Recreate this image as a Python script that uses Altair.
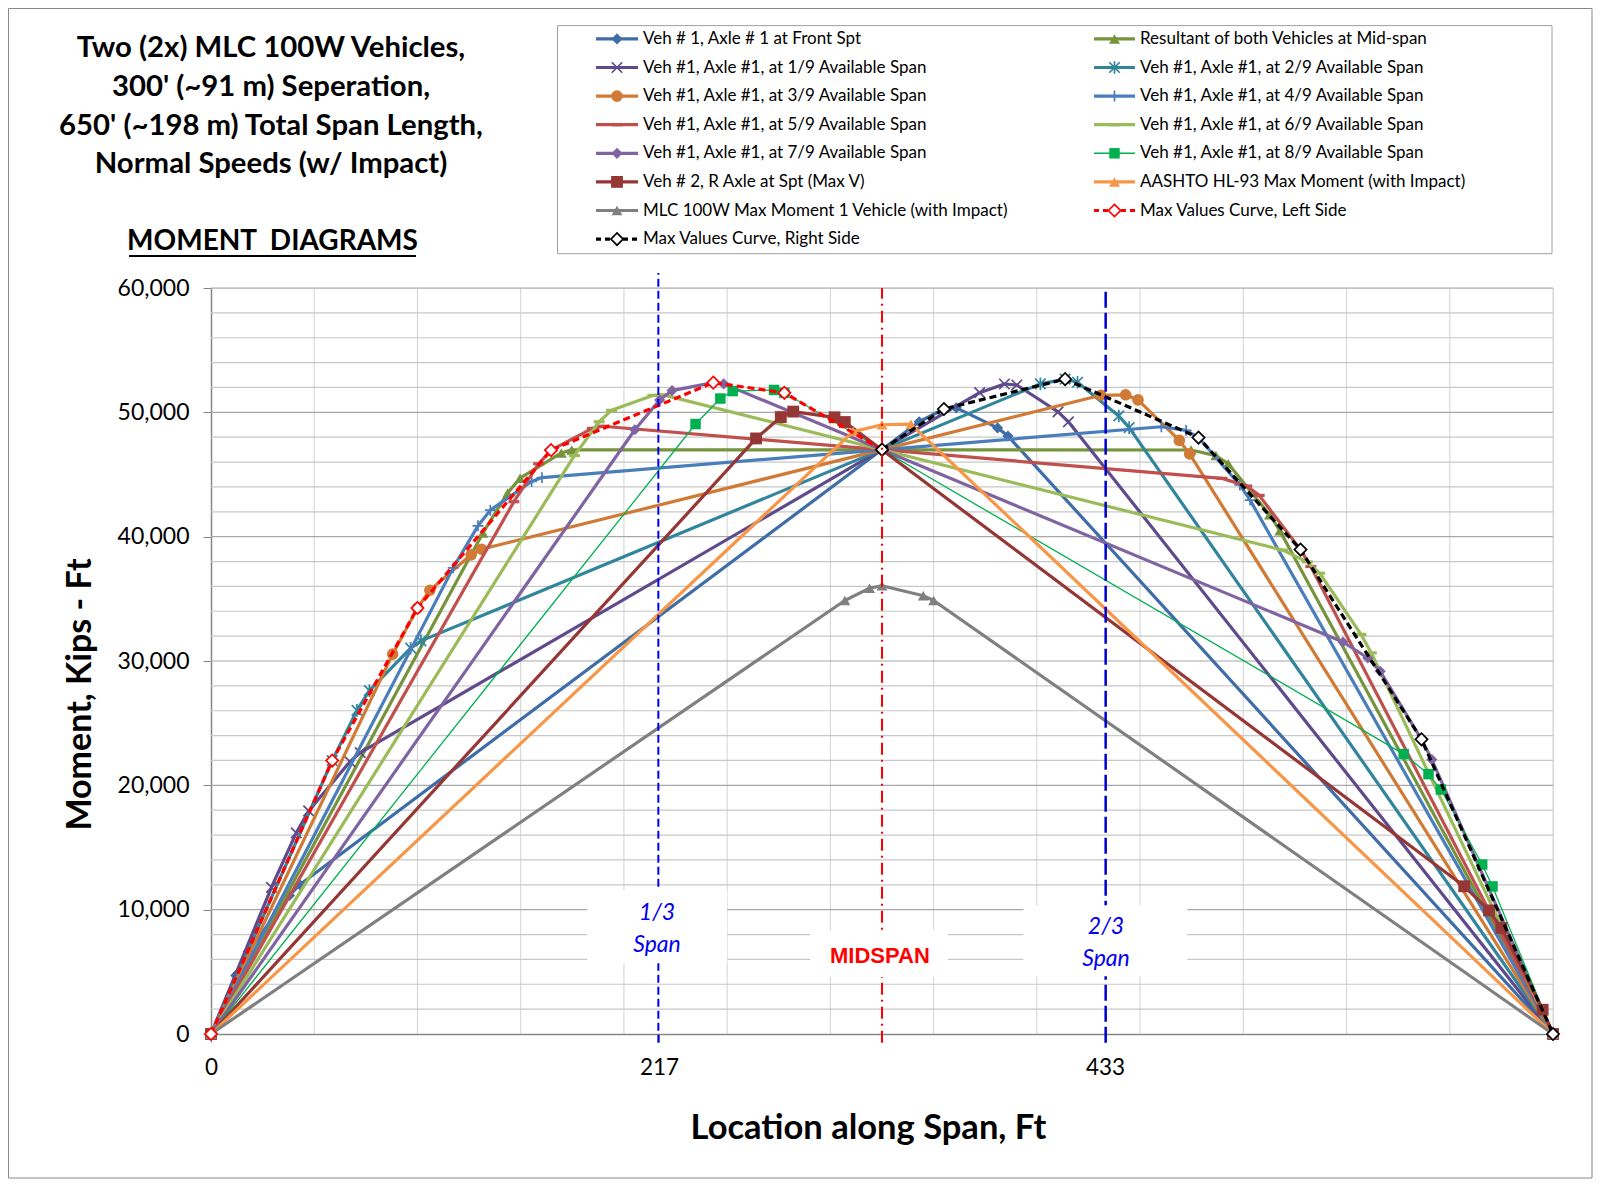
import altair as alt
import pandas as pd

# ------------------------------------------------------------------
# Chart content
# ------------------------------------------------------------------
TITLE_LINES = [
    "Two (2x) MLC 100W Vehicles,",
    "300' (~91 m) Seperation,",
    "650' (~198 m) Total Span Length,",
    "Normal Speeds (w/ Impact)",
]
SUBTITLE = "MOMENT\u00a0\u00a0DIAGRAMS"
X_TITLE = "Location along Span, Ft"
Y_TITLE = "Moment, Kips - Ft"

X_TICKS = [0, 217, 433]
Y_TICKS = [0, 10000, 20000, 30000, 40000, 50000, 60000]
X_GRID = [50, 100, 150, 200, 250, 300, 350, 400, 450, 500, 550, 600, 650]
Y_GRID_MAJOR = [10000, 20000, 30000, 40000, 50000, 60000]
Y_GRID_MINOR = [2000, 4000, 6000, 8000, 12000, 14000, 16000, 18000,
                22000, 24000, 26000, 28000, 32000, 34000, 36000, 38000,
                42000, 44000, 46000, 48000, 52000, 54000, 56000, 58000]

NAMES = [
    "Veh # 1, Axle # 1 at Front Spt",
    "Resultant of both Vehicles at Mid-span",
    "Veh #1, Axle #1, at 1/9 Available Span",
    "Veh #1, Axle #1, at 2/9 Available Span",
    "Veh #1, Axle #1, at 3/9 Available Span",
    "Veh #1, Axle #1, at 4/9 Available Span",
    "Veh #1, Axle #1, at 5/9 Available Span",
    "Veh #1, Axle #1, at 6/9 Available Span",
    "Veh #1, Axle #1, at 7/9 Available Span",
    "Veh #1, Axle #1, at 8/9 Available Span",
    "Veh # 2, R Axle at Spt (Max V)",
    "AASHTO HL-93 Max Moment (with Impact)",
    "MLC 100W Max Moment 1 Vehicle (with Impact)",
    "Max Values Curve, Left Side",
    "Max Values Curve, Right Side",
]

x_front = [0, 12, 18, 38, 43, 343, 355, 361, 381, 386, 650]
y_front = [0, 4710, 6630, 11140, 12010, 49240, 50270, 50360, 48750, 48090, 0]

x_result = [0, 131.7, 143.7, 149.7, 169.7, 174.7, 474.7, 486.7, 492.7, 512.7, 517.7, 650]
y_result = [0, 40300, 43520, 44700, 46730, 46980, 46970, 46520, 45860, 41770, 40480, 0]

x_1of9 = [0, 29.3, 41.3, 47.3, 67.3, 72.3, 372.3, 384.3, 390.3, 410.3, 415.3, 650]
y_1of9 = [0, 11800, 16180, 17940, 21900, 22630, 51580, 52280, 52200, 50040, 49240, 0]

x_2of9 = [0, 58.7, 70.7, 76.7, 96.7, 101.7, 401.7, 413.7, 419.7, 439.7, 444.7, 650]
y_2of9 = [0, 21990, 26030, 27620, 31030, 31620, 52290, 52670, 52420, 49710, 48770, 0]

x_3of9 = [0, 88, 100, 106, 126, 131, 431, 443, 449, 469, 474, 650]
y_3of9 = [0, 30550, 34260, 35690, 38540, 38990, 51370, 51410, 51000, 47740, 46660, 0]

x_4of9 = [0, 117.3, 129.3, 135.3, 155.3, 160.3, 460.3, 472.3, 478.3, 498.3, 503.3, 650]
y_4of9 = [0, 37490, 40870, 42130, 44440, 44750, 48840, 48550, 47970, 44160, 42940, 0]

x_5of9 = [0, 146.7, 158.7, 164.7, 184.7, 189.7, 489.7, 501.7, 507.7, 527.7, 532.7, 650]
y_5of9 = [0, 42810, 45860, 46960, 48710, 48880, 44690, 44070, 43320, 38960, 37600, 0]

x_6of9 = [0, 176, 188, 194, 214, 219, 519, 531, 537, 557, 562, 650]
y_6of9 = [0, 46520, 49240, 50160, 51360, 51400, 38920, 37970, 37060, 32140, 30650, 0]

x_7of9 = [0, 205.3, 217.3, 223.3, 243.3, 248.3, 548.3, 560.3, 566.3, 586.3, 591.3, 650]
y_7of9 = [0, 48600, 50990, 51750, 52390, 52290, 31530, 30240, 29170, 23700, 22070, 0]

x_8of9 = [0, 234.7, 246.7, 252.7, 272.7, 277.7, 577.7, 589.7, 595.7, 615.7, 620.7, 650]
y_8of9 = [0, 49060, 51110, 51710, 51800, 51570, 22510, 20900, 19660, 13630, 11870, 0]

x_veh2 = [0, 264, 276, 282, 302, 307, 607, 619, 625, 645, 650]
y_veh2 = [0, 47900, 49620, 50060, 49600, 49220, 11880, 9940, 8530, 1950, 0]

x_hl93 = [0, 311, 325, 339, 650]
y_hl93 = [0, 48450, 49000, 49050, 0]

x_mlc1 = [0, 307, 319, 325, 345, 350, 650]
y_mlc1 = [0, 34870, 35860, 36050, 35250, 34870, 0]

x_maxL = [0, 58.7, 100, 164.7, 243.3, 277.7, 325]
y_maxL = [0, 21990, 34260, 46960, 52390, 51570, 47000]

x_maxR = [325, 355, 413.7, 478.3, 527.7, 586.3, 650]
y_maxR = [47000, 50270, 52670, 47970, 38960, 23700, 0]

SERIES_X = [x_front, x_result, x_1of9, x_2of9, x_3of9, x_4of9, x_5of9, x_6of9,
            x_7of9, x_8of9, x_veh2, x_hl93, x_mlc1, x_maxL, x_maxR]
SERIES_Y = [y_front, y_result, y_1of9, y_2of9, y_3of9, y_4of9, y_5of9, y_6of9,
            y_7of9, y_8of9, y_veh2, y_hl93, y_mlc1, y_maxL, y_maxR]

# reference lines / annotation boxes (data units)
REF_X = [216.67, 325, 433.33]
REF_TOP = [61200, 60000, 60000]
BOX_X1 = [182.3, 290.2, 393.5]
BOX_X2 = [250.0, 356.9, 472.9]
BOX_Y1 = [5690, 4590, 4650]
BOX_Y2 = [11580, 8350, 10360]
ANN_TEXT = ["1/3", "Span", "MIDSPAN", "2/3", "Span"]
ANN_X = [216.0, 216.0, 324.0, 433.5, 433.5]
ANN_Y = [9700, 7150, 6260, 8570, 6070]

# ------------------------------------------------------------------
# Styles
# ------------------------------------------------------------------
X_MARK = "M-1,-1L1,1M-1,1L1,-1"
STAR_MARK = "M-1,-1L1,1M-1,1L1,-1M0,-1.2L0,1.2"
PLUS_MARK = "M-1,0L1,0M0,-1L0,1"
DASH_MARK = "M-1,0L1,0"

STYLES = [
    dict(color="#3F6DA8", w=3.2, dash=None, shape="diamond", size=125, kind="fill"),
    dict(color="#77933C", w=3.2, dash=None, shape="triangle-up", size=120, kind="fill"),
    dict(color="#5F4A8B", w=3.2, dash=None, shape=X_MARK, size=110, kind="stroke"),
    dict(color="#31859C", w=3.2, dash=None, shape=STAR_MARK, size=110, kind="stroke"),
    dict(color="#D07A35", w=3.2, dash=None, shape="circle", size=135, kind="fill"),
    dict(color="#4A7EBB", w=3.2, dash=None, shape=PLUS_MARK, size=120, kind="stroke"),
    dict(color="#C0504D", w=3.2, dash=None, shape=DASH_MARK, size=120, kind="stroke"),
    dict(color="#9BBB59", w=3.2, dash=None, shape=DASH_MARK, size=120, kind="stroke"),
    dict(color="#8064A2", w=3.2, dash=None, shape="diamond", size=125, kind="fill"),
    dict(color="#00B050", w=1.3, dash=None, shape="square", size=110, kind="fill"),
    dict(color="#953735", w=3.2, dash=None, shape="square", size=140, kind="fill"),
    dict(color="#F79646", w=3.2, dash=None, shape="triangle-up", size=120, kind="fill"),
    dict(color="#808080", w=3.2, dash=None, shape="triangle-up", size=120, kind="fill"),
    dict(color="#FF0000", w=3.2, dash=[7, 4], shape="diamond", size=150, kind="open"),
    dict(color="#000000", w=3.2, dash=[7, 4], shape="diamond", size=150, kind="open"),
]

W, H = 1342, 746
FONT = "Lato"

X_ENC = alt.X(
    "x:Q",
    scale=alt.Scale(domain=[0, 650], nice=False, zero=False),
    axis=alt.Axis(
        values=X_TICKS, labelExpr="format(datum.value, 'd')", grid=False, title=X_TITLE,
        labelFlush=False, labelOverlap=False,
        domainColor="#868686", domainWidth=1.5, tickColor="#868686", tickSize=8,
        labelFont=FONT, labelFontSize=22.5, labelColor="#000000", labelPadding=14,
        titleFont=FONT, titleFontSize=34.5, titleFontWeight="bold", titleColor="#000000",
        titleX=657, titleY=94, titleBaseline="middle", titleAlign="center",
    ),
)
Y_ENC = alt.Y(
    "y:Q",
    scale=alt.Scale(domain=[0, 60000], nice=False),
    axis=alt.Axis(
        values=Y_TICKS, labelExpr="format(datum.value, ',')", grid=False, title=Y_TITLE,
        labelFlush=False, labelOverlap=False,
        domainColor="#868686", domainWidth=1.5, tickColor="#868686", tickSize=8,
        labelFont=FONT, labelFontSize=23, labelColor="#000000", labelPadding=14,
        titleFont=FONT, titleFontSize=34, titleFontWeight="bold", titleColor="#000000",
        titleAngle=270, titleX=-131, titleY=406, titleBaseline="middle", titleAlign="center",
    ),
)


def point_mark(st):
    if st["kind"] == "fill":
        return alt.MarkDef(type="point", shape=st["shape"], size=st["size"], filled=True,
                           color=st["color"], opacity=1)
    if st["kind"] == "open":
        return alt.MarkDef(type="point", shape=st["shape"], size=st["size"], filled=True,
                           fill="#FFFFFF", stroke=st["color"], strokeWidth=1.7, opacity=1)
    return alt.MarkDef(type="point", shape=st["shape"], size=st["size"], filled=False,
                       color=st["color"], strokeWidth=1.7 if st["shape"] != DASH_MARK else 3.2,
                       opacity=1)


layers = []

# gridlines
layers.append(
    alt.Chart(pd.DataFrame({"x": X_GRID})).mark_rule(color="#d2d2d2", strokeWidth=1)
    .encode(x=X_ENC, y=alt.value(0), y2=alt.value(H))
)
layers.append(
    alt.Chart(pd.DataFrame({"y": Y_GRID_MINOR})).mark_rule(color="#c8c8c8", strokeWidth=1.2)
    .encode(y=Y_ENC, x=alt.value(0), x2=alt.value(W))
)
layers.append(
    alt.Chart(pd.DataFrame({"y": Y_GRID_MAJOR})).mark_rule(color="#a8a8a8", strokeWidth=1.2)
    .encode(y=Y_ENC, x=alt.value(0), x2=alt.value(W))
)

# data series
for i, (xs, ys) in enumerate(zip(SERIES_X, SERIES_Y)):
    st = STYLES[i]
    df = pd.DataFrame({"x": xs, "y": ys, "i": list(range(len(xs)))})
    line_kw = dict(color=st["color"], strokeWidth=st["w"], strokeJoin="round", strokeCap="butt")
    if st["dash"]:
        line_kw["strokeDash"] = st["dash"]
    layers.append(alt.Chart(df).mark_line(**line_kw).encode(x=X_ENC, y=Y_ENC, order="i:Q"))
    layers.append(alt.Chart(df, mark=point_mark(st)).encode(x=X_ENC, y=Y_ENC))

# reference lines
ref_styles = [
    dict(color="#0000EE", strokeWidth=2, strokeDash=[8, 4]),
    dict(color="#FF0000", strokeWidth=2, strokeDash=[12, 5, 2, 5]),
    dict(color="#0000CC", strokeWidth=2.5, strokeDash=[16, 5]),
]
for j in range(3):
    rdf = pd.DataFrame({"x": [REF_X[j]], "y": [-700], "y2": [REF_TOP[j]]})
    layers.append(
        alt.Chart(rdf).mark_rule(**ref_styles[j])
        .encode(x=X_ENC, y=Y_ENC, y2=alt.Y2("y2:Q"))
    )

# annotation boxes
bdf = pd.DataFrame({"x": BOX_X1, "x2": BOX_X2, "y": BOX_Y1, "y2": BOX_Y2})
layers.append(
    alt.Chart(bdf).mark_rect(color="#FFFFFF", opacity=1)
    .encode(x=X_ENC, x2=alt.X2("x2:Q"), y=Y_ENC, y2=alt.Y2("y2:Q"))
)
adf = pd.DataFrame({"x": ANN_X, "y": ANN_Y, "t": ANN_TEXT})
layers.append(
    alt.Chart(adf[adf.t != "MIDSPAN"]).mark_text(font=FONT, fontSize=23, fontStyle="italic",
                                                  color="#0000EE", align="center", baseline="middle")
    .encode(x=X_ENC, y=Y_ENC, text="t:N")
)
layers.append(
    alt.Chart(adf[adf.t == "MIDSPAN"]).mark_text(font="Liberation Sans", fontSize=22, fontWeight="bold",
                                                  color="#FF0000", align="center", baseline="middle")
    .encode(x=X_ENC, y=Y_ENC, text="t:N")
)

# ------------------------------------------------------------------
# Title block (pixel layout relative to the plot's top-left corner)
# ------------------------------------------------------------------
for k, line in enumerate(TITLE_LINES):
    layers.append(
        alt.Chart(pd.DataFrame({"t": [line]}))
        .mark_text(font=FONT, fontSize=29.3, fontWeight="bold", color="#000000",
                   align="center", baseline="alphabetic")
        .encode(x=alt.value(60), y=alt.value(-231 + 38.8 * k), text="t:N")
    )
layers.append(
    alt.Chart(pd.DataFrame({"t": [SUBTITLE]}))
    .mark_text(font=FONT, fontSize=28, fontWeight="bold", color="#000000",
               align="center", baseline="alphabetic")
    .encode(x=alt.value(61.5), y=alt.value(-38), text="t:N")
)
layers.append(
    alt.Chart(pd.DataFrame({"t": [SUBTITLE]})).mark_rule(color="#000000", strokeWidth=2)
    .encode(x=alt.value(-82), x2=alt.value(205), y=alt.value(-32))
)

# ------------------------------------------------------------------
# Legend (hand-built, 2 columns)
# ------------------------------------------------------------------
layers.append(
    alt.Chart(pd.DataFrame({"t": ["legend"]})).mark_rect(fill="#FFFFFF", stroke="#a0a0a0", strokeWidth=1)
    .encode(x=alt.value(346.5), x2=alt.value(1341), y=alt.value(-262.4), y2=alt.value(-34.3))
)
COL_LINE = [(385, 427), (883, 924)]
for i, name in enumerate(NAMES):
    st = STYLES[i]
    col, row = i % 2, i // 2
    ly = -249.1 + 28.6 * row
    x1, x2 = COL_LINE[col]
    cx = (x1 + x2) / 2
    one = pd.DataFrame({"t": [name]})
    rkw = dict(color=st["color"], strokeWidth=max(st["w"], 2.5) if i != 9 else 1.5)
    if st["dash"]:
        rkw["strokeDash"] = [5, 4]
    layers.append(alt.Chart(one).mark_rule(**rkw)
                  .encode(x=alt.value(x1), x2=alt.value(x2), y=alt.value(ly)))
    layers.append(alt.Chart(one, mark=point_mark(st))
                  .encode(x=alt.value(cx), y=alt.value(ly)))
    layers.append(alt.Chart(one).mark_text(font=FONT, fontSize=17, color="#000000",
                                           align="left", baseline="middle")
                  .encode(x=alt.value(x2 + 5), y=alt.value(ly), text="t:N"))

# outer border
layers.append(
    alt.Chart(pd.DataFrame({"t": ["border"]})).mark_rect(filled=False, stroke="#8a8a8a", strokeWidth=1)
    .encode(x=alt.value(-202.5), x2=alt.value(W + 39), y=alt.value(-279.5), y2=alt.value(H + 144))
)

chart = (
    alt.layer(*layers)
    .properties(width=W, height=H,
                padding={"left": 203, "top": 280, "right": 40, "bottom": 145},
                autosize=alt.AutoSizeParams(type="none"))
    .configure_view(stroke=None)
    .configure(background="#FFFFFF")
)

chart.save("out.html", embed_options={"renderer": "svg", "actions": False})
